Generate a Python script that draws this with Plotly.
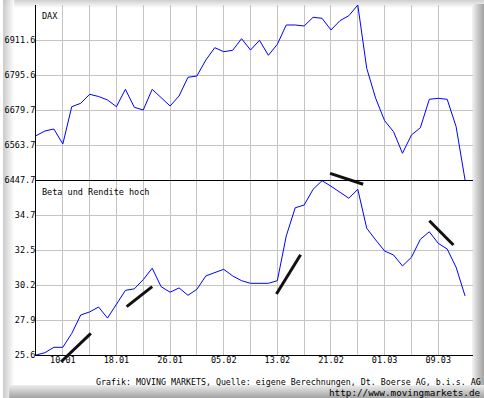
import plotly.graph_objects as go

# ---------------- data ----------------
dax = [6594.5, 6610.1, 6616.7, 6567.0, 6690.6, 6701.8, 6731.7, 6724.4, 6712.8, 6690.6,
       6748.2, 6688.6, 6679.6, 6748.2, 6720.7, 6692.9, 6726.0, 6788.0, 6792.3, 6845.3,
       6886.1, 6872.8, 6877.5, 6915.9, 6878.4, 6910.6, 6860.9, 6897.3, 6961.3, 6961.3,
       6958.0, 6986.8, 6983.5, 6944.7, 6975.5, 6992.1, 7027.5, 6817.8, 6718.4, 6644.2,
       6607.7, 6536.2, 6596.8, 6621.0, 6715.1, 6718.4, 6715.1, 6624.3, 6447.7]
beta = [25.6, 25.75, 26.1, 26.1, 27.0, 28.2, 28.4, 28.72, 28.0, 28.9,
        29.8, 29.9, 30.5, 31.24, 30.04, 29.68, 29.96, 29.48, 29.87, 30.74,
        30.95, 31.17, 30.74, 30.43, 30.26, 30.26, 30.26, 30.43, 33.34, 35.17,
        35.35, 36.37, 36.93, 36.57, 36.19, 35.79, 36.37, 33.84, 33.08, 32.36,
        32.1, 31.39, 31.95, 33.12, 33.61, 32.86, 32.49, 31.3, 29.44]
x_idx = list(range(len(dax)))

x_tick_pos = [3, 6, 9, 12, 15, 18, 21, 24, 27, 30, 33, 36, 39, 42, 45]
x_tick_text = ["10.01", "", "18.01", "", "26.01", "", "05.02", "", "13.02", "",
               "21.02", "", "01.03", "", "09.03"]

dax_tick_pos = [6447.7, 6563.67, 6679.64, 6795.61, 6911.58]
dax_tick_text = ["6447.7", "6563.7", "6679.7", "6795.6", "6911.6"]
dax_range = [6447.7, 7027.55]

beta_tick_pos = [25.6, 27.875, 30.15, 32.425, 34.7]
beta_tick_text = ["25.6", "27.9", "30.2", "32.5", "34.7"]
beta_range = [25.6, 36.975]

# trend segments (x index, beta units)
trend_x0 = [2.81, 10.14, 26.9, 32.9, 44.0]
trend_y0 = [25.16, 28.74, 29.57, 37.41, 34.33]
trend_x1 = [6.14, 13.0, 29.6, 36.6, 46.7]
trend_y1 = [27.01, 30.04, 32.12, 36.7, 32.75]

title_top = "DAX"
title_bottom = "Beta und Rendite hoch"
footer1 = "Grafik: MOVING MARKETS, Quelle: eigene Berechnungen, Dt. Boerse AG, b.i.s. AG"
footer2 = "http://www.movingmarkets.de"

# ---------------- layout geometry ----------------
W, H = 484, 398
L, R, T, B = 33, 11, 5, 33
PW, PH = W - L - R, H - T - B          # 440 x 360
x_max = PW / 9.0


def px(xp):
    return (xp - L) / PW


def py(yp):
    return (H - B - yp) / PH


y_bot = py(355)
y_mid = py(180)
per_px = (beta_range[1] - beta_range[0]) / 175.0
ov_range = [beta_range[0] - (H - B - 355) * per_px, beta_range[0] + (355 - T) * per_px]

FONT = "DejaVu Sans Mono"
GRID = "#c4c4c4"
CLEAR = "rgba(0,0,0,0)"

fig = go.Figure()
fig.add_trace(go.Scatter(x=x_idx, y=dax, mode="lines", xaxis="x", yaxis="y",
                         line=dict(color="#0000ff", width=1), hoverinfo="skip"))
fig.add_trace(go.Scatter(x=x_idx, y=beta, mode="lines", xaxis="x", yaxis="y2",
                         line=dict(color="#0000ff", width=1), hoverinfo="skip"))

tx, ty = [], []
for a, b, c, d in zip(trend_x0, trend_y0, trend_x1, trend_y1):
    tx += [a, c, None]
    ty += [b, d, None]
fig.add_trace(go.Scatter(x=tx, y=ty, mode="lines", xaxis="x2", yaxis="y3",
                         line=dict(color="#111111", width=3), hoverinfo="skip"))

shapes = []


def hexc(c):
    return "#%02x%02x%02x" % tuple(int(round(v)) for v in c)


def band(x0p, x1p, y0p, y1p, c0, c1, n, horizontal):
    for k in range(n):
        f = k / max(n - 1, 1)
        col = [c0[j] + (c1[j] - c0[j]) * f for j in range(3)]
        if horizontal:
            a = x0p + (x1p - x0p) * k / n
            b = x0p + (x1p - x0p) * (k + 1) / n
            xa, xb, ya, yb = a, b, y0p, y1p
        else:
            a = y0p + (y1p - y0p) * k / n
            b = y0p + (y1p - y0p) * (k + 1) / n
            xa, xb, ya, yb = x0p, x1p, a, b
        shapes.append(dict(type="rect", xref="paper", yref="paper",
                           x0=px(xa), x1=px(xb), y0=py(ya), y1=py(yb),
                           fillcolor=hexc(col), line=dict(width=0), layer="below"))


band(0, 484, 0, 8, (210, 210, 210), (252, 252, 252), 8, False)      # top
band(0, 11, 0, 398, (195, 195, 195), (252, 252, 252), 11, True)     # left
band(472, 484, 4, 398, (240, 240, 240), (160, 160, 160), 12, True)   # right
band(6, 484, 385, 398, (235, 235, 235), (165, 165, 165), 13, False)  # bottom

# divider line between the two panels (crisp, on a pixel row)
shapes.append(dict(type="line", xref="paper", yref="paper", x0=0, x1=1,
                   y0=py(180.5), y1=py(180.5), line=dict(color="black", width=1),
                   layer="above"))

annotations = [
    dict(text=title_top, xref="paper", yref="paper", x=px(37), y=py(16),
         xanchor="left", yanchor="middle", showarrow=False,
         font=dict(family=FONT, size=8.5, color="black")),
    dict(text=title_bottom, xref="paper", yref="paper", x=px(37), y=py(192),
         xanchor="left", yanchor="middle", showarrow=False,
         font=dict(family=FONT, size=8.5, color="black")),
    dict(text=footer1, xref="paper", yref="paper", x=px(483), y=py(382),
         xanchor="right", yanchor="middle", showarrow=False,
         font=dict(family=FONT, size=8.3, color="black")),
    dict(text=footer2, xref="paper", yref="paper", x=px(483), y=py(392),
         xanchor="right", yanchor="middle", showarrow=False,
         font=dict(family=FONT, size=9.3, color="black")),
]

fig.update_layout(
    width=W, height=H,
    margin=dict(l=L, r=R, t=T, b=B, pad=0),
    paper_bgcolor="white", plot_bgcolor=CLEAR,
    showlegend=False,
    shapes=shapes, annotations=annotations,
    xaxis=dict(domain=[0, 1], range=[0, x_max], anchor="y2",
               tickmode="array", tickvals=x_tick_pos, ticktext=x_tick_text,
               showgrid=True, gridcolor=GRID, gridwidth=1, zeroline=False,
               showline=True, linecolor="black", linewidth=1, ticks="",
               ticklabelstandoff=-3,
               tickfont=dict(family=FONT, size=8.5, color="black")),
    yaxis=dict(domain=[y_mid, 1], range=dax_range, anchor="x",
               tickmode="array", tickvals=dax_tick_pos, ticktext=dax_tick_text,
               showgrid=True, gridcolor=GRID, gridwidth=1, zeroline=False,
               showline=True, linecolor="black", linewidth=1, ticks="",
               ticklabelstandoff=-2,
               tickfont=dict(family=FONT, size=8.5, color="black")),
    yaxis2=dict(domain=[y_bot, y_mid], range=beta_range, anchor="x",
                tickmode="array", tickvals=beta_tick_pos, ticktext=beta_tick_text,
                showgrid=True, gridcolor=GRID, gridwidth=1, zeroline=False,
                showline=True, linecolor="black", linewidth=1, ticks="",
                ticklabelstandoff=-2,
                tickfont=dict(family=FONT, size=8.5, color="black")),
    xaxis2=dict(domain=[0, 1], range=[0, x_max], anchor="y3", visible=False,
                showgrid=False, zeroline=False),
    yaxis3=dict(domain=[0, 1], range=ov_range, anchor="x2", visible=False,
                showgrid=False, zeroline=False),
)

fig.write_html("out.html")
